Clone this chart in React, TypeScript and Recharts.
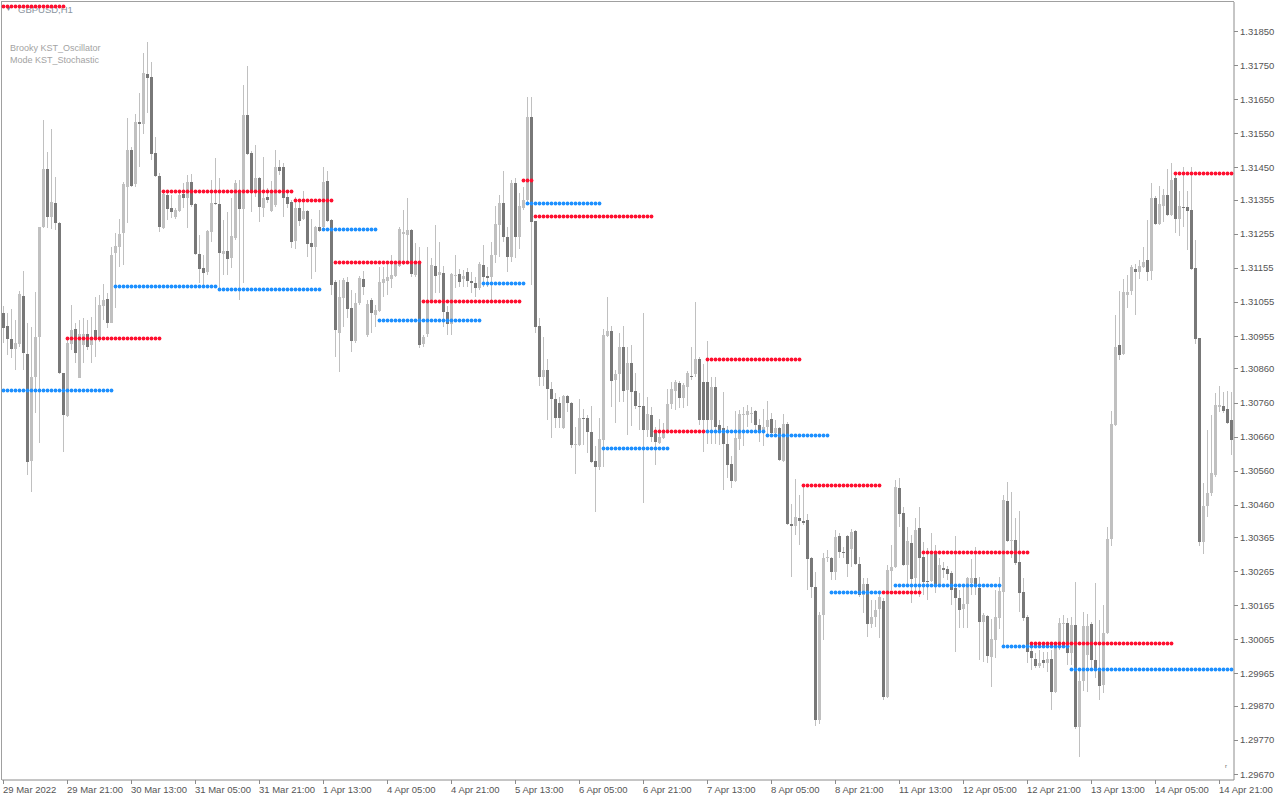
import React from "react";
import { ComposedChart, Bar, Line, XAxis, YAxis } from "recharts";

// GBPUSD H1, 308 bars (29 Mar 2022 05:00 .. 15 Apr 00:00)
const OPEN = [
  1.31023,1.30985,1.30946,1.30917,1.30932,1.31073,1.30902,1.30588,1.30835,1.30952,
  1.31275,1.31445,1.31304,1.31345,1.31287,1.30847,1.30720,1.30932,1.30976,1.30832,
  1.30929,1.30961,1.30929,1.30973,1.30952,1.31043,1.31064,1.30993,1.31199,1.31216,
  1.31257,1.31392,1.31501,1.31401,1.31583,1.31577,1.31724,1.31715,1.31492,1.31425,
  1.31272,1.31369,1.31331,1.31304,1.31322,1.31372,1.31360,1.31407,1.31342,1.31196,
  1.31155,1.31143,1.31260,1.31345,1.31342,1.31196,1.31205,1.31184,1.31243,1.31384,
  1.31328,1.31604,1.31492,1.31378,1.31419,1.31331,1.31363,1.31322,1.31340,1.31451,
  1.31451,1.31363,1.31348,1.31234,1.31331,1.31298,1.31322,1.31228,1.31216,1.31275,
  1.31275,1.31410,1.31296,1.31114,1.30964,1.31067,1.31114,1.31037,1.30941,1.31052,
  1.31122,1.30958,1.31061,1.31017,1.31029,1.31111,1.31117,1.31122,1.31131,1.31161,
  1.31254,1.31251,1.31266,1.31134,1.31169,1.30932,1.30961,1.31055,1.31161,1.31134,
  1.31140,1.31026,1.30990,1.31131,1.31137,1.31122,1.31143,1.31117,1.31111,1.31096,
  1.31163,1.31131,1.31128,1.31193,1.31281,1.31345,1.31246,1.31187,1.31404,1.31246,
  1.31331,1.31354,1.31598,1.31293,1.30985,1.30835,1.30855,1.30800,1.30770,1.30759,
  1.30685,1.30779,1.30759,1.30635,1.30635,1.30715,1.30715,1.30673,1.30588,1.30571,
  1.30650,1.30955,1.30970,1.30826,1.30844,1.30923,1.30797,1.30876,1.30794,1.30750,
  1.30750,1.30679,1.30723,1.30671,1.30641,1.30656,1.30679,1.30756,1.30794,1.30817,
  1.30773,1.30806,1.30838,1.30844,1.30888,1.30820,1.30820,1.30709,1.30806,1.30694,
  1.30685,1.30638,1.30580,1.30530,1.30653,1.30723,1.30723,1.30726,1.30735,1.30694,
  1.30671,1.30688,1.30712,1.30671,1.30685,1.30588,1.30697,1.30404,1.30398,1.30421,
  1.30412,1.30415,1.30304,1.30219,1.29829,1.30137,1.30304,1.30304,1.30263,1.30368,
  1.30321,1.30368,1.30330,1.30383,1.30286,1.30195,1.30228,1.30110,1.30131,1.30154,
  1.30178,1.29896,1.30266,1.30277,1.30509,1.30436,1.30283,1.30348,1.30245,1.30392,
  1.30307,1.30236,1.30236,1.30321,1.30225,1.30274,1.30272,1.30260,1.30216,1.30186,
  1.30154,1.30169,1.30230,1.30245,1.30216,1.30116,1.30134,1.30013,1.30063,1.30128,
  1.30204,1.30471,1.30354,1.30357,1.30292,1.30204,1.30131,1.30031,1.30007,1.29987,
  1.30005,1.29996,1.30007,1.29911,1.30040,1.30110,1.30113,1.30025,1.30107,1.29808,
  1.29943,1.30019,1.30110,1.30005,1.29978,1.29931,1.30084,1.30360,1.30694,1.30929,
  1.30902,1.31075,1.31087,1.31152,1.31143,1.31158,1.31178,1.31146,1.31360,1.31284,
  1.31337,1.31369,1.31310,1.31419,1.31298,1.31334,1.31334,1.31325,1.31155,1.30949,
  1.30351,1.30456,1.30494,1.30547,1.30747,1.30750,1.30741,1.30709,
];

const HIGH = [
  1.31043,1.31023,1.31034,1.31002,1.31087,1.31146,1.30993,1.30982,1.31084,1.31275,
  1.31589,1.31495,1.31563,1.31422,1.31290,1.30847,1.30946,1.31046,1.30993,1.31002,
  1.31008,1.31002,1.31011,1.31070,1.31075,1.31108,1.31081,1.31216,1.31257,1.31298,
  1.31407,1.31595,1.31510,1.31607,1.31668,1.31785,1.31818,1.31759,1.31539,1.31433,
  1.31378,1.31378,1.31369,1.31331,1.31378,1.31404,1.31428,1.31431,1.31345,1.31251,
  1.31193,1.31266,1.31413,1.31477,1.31419,1.31296,1.31319,1.31360,1.31413,1.31413,
  1.31692,1.31747,1.31498,1.31516,1.31422,1.31480,1.31389,1.31410,1.31501,1.31472,
  1.31463,1.31378,1.31354,1.31363,1.31354,1.31381,1.31325,1.31298,1.31278,1.31325,
  1.31451,1.31439,1.31298,1.31119,1.31119,1.31125,1.31128,1.31090,1.31081,1.31131,
  1.31146,1.31061,1.31067,1.31046,1.31158,1.31158,1.31169,1.31193,1.31172,1.31275,
  1.31325,1.31360,1.31269,1.31228,1.31216,1.30958,1.31216,1.31184,1.31281,1.31231,
  1.31161,1.31043,1.31140,1.31193,1.31152,1.31149,1.31155,1.31143,1.31128,1.31172,
  1.31222,1.31158,1.31231,1.31337,1.31369,1.31439,1.31275,1.31413,1.31419,1.31375,
  1.31392,1.31656,1.31656,1.31293,1.31008,1.30952,1.30888,1.30820,1.30788,1.30776,
  1.30782,1.30782,1.30762,1.30688,1.30770,1.30741,1.30723,1.30750,1.30632,1.30715,
  1.30976,1.31070,1.30985,1.30855,1.30964,1.30985,1.30923,1.30929,1.30847,1.30788,
  1.31023,1.30776,1.30747,1.30688,1.30712,1.30700,1.30800,1.30820,1.30826,1.30823,
  1.30817,1.30853,1.30923,1.31055,1.30894,1.30873,1.30941,1.30835,1.30835,1.30709,
  1.30791,1.30691,1.30603,1.30735,1.30738,1.30747,1.30753,1.30747,1.30738,1.30712,
  1.30741,1.30764,1.30729,1.30709,1.30688,1.30726,1.30703,1.30462,1.30536,1.30489,
  1.30512,1.30433,1.30307,1.30263,1.30145,1.30319,1.30327,1.30307,1.30386,1.30377,
  1.30336,1.30371,1.30389,1.30386,1.30307,1.30245,1.30245,1.30181,1.30181,1.30201,
  1.30186,1.30283,1.30342,1.30533,1.30539,1.30453,1.30395,1.30371,1.30421,1.30453,
  1.30351,1.30333,1.30377,1.30342,1.30304,1.30292,1.30280,1.30266,1.30368,1.30210,
  1.30219,1.30248,1.30301,1.30336,1.30248,1.30142,1.30137,1.30125,1.30210,1.30248,
  1.30489,1.30527,1.30497,1.30421,1.30442,1.30245,1.30137,1.30040,1.30025,1.30034,
  1.30028,1.30028,1.30034,1.30043,1.30128,1.30137,1.30128,1.30131,1.30233,1.29975,
  1.30145,1.30140,1.30116,1.30230,1.30122,1.30166,1.30395,1.30735,1.31017,1.31087,
  1.31122,1.31134,1.31163,1.31166,1.31178,1.31216,1.31296,1.31404,1.31366,1.31395,
  1.31386,1.31445,1.31463,1.31428,1.31381,1.31451,1.31381,1.31451,1.31237,1.30949,
  1.30524,1.30679,1.30723,1.30788,1.30808,1.30791,1.30794,1.30791,
];

const LOW = [
  1.30935,1.30899,1.30891,1.30855,1.30923,1.30855,1.30547,1.30497,1.30729,1.30641,
  1.31272,1.31272,1.31269,1.31266,1.30844,1.30615,1.30718,1.30914,1.30876,1.30832,
  1.30876,1.30914,1.30876,1.30894,1.30938,1.31002,1.30979,1.30993,1.31037,1.31158,
  1.31163,1.31287,1.31392,1.31392,1.31451,1.31548,1.31609,1.31472,1.31422,1.31260,
  1.31269,1.31296,1.31301,1.31298,1.31319,1.31331,1.31272,1.31334,1.31193,1.31111,
  1.31096,1.31134,1.31231,1.31340,1.31096,1.31134,1.31134,1.31155,1.31237,1.31061,
  1.31111,1.31486,1.31319,1.31363,1.31290,1.31304,1.31345,1.31319,1.31334,1.31428,
  1.31304,1.31331,1.31213,1.31210,1.31278,1.31296,1.31187,1.31122,1.31143,1.31260,
  1.31272,1.31290,1.31075,1.30894,1.30850,1.30982,1.31008,1.30908,1.30935,1.31046,
  1.31075,1.30952,1.30964,1.30982,1.31026,1.31070,1.31075,1.31096,1.31128,1.31158,
  1.31163,1.31169,1.31128,1.31128,1.30920,1.30923,1.30952,1.31052,1.31081,1.31081,
  1.30982,1.30958,1.30958,1.31096,1.31099,1.31099,1.31099,1.31081,1.31070,1.31090,
  1.31099,1.31099,1.31061,1.31169,1.31187,1.31231,1.31143,1.31172,1.31184,1.31210,
  1.31325,1.31348,1.31105,1.30964,1.30808,1.30808,1.30709,1.30656,1.30685,1.30685,
  1.30682,1.30732,1.30627,1.30550,1.30632,1.30635,1.30612,1.30583,1.30439,1.30562,
  1.30571,1.30952,1.30747,1.30700,1.30762,1.30762,1.30665,1.30691,1.30741,1.30679,
  1.30465,1.30659,1.30644,1.30577,1.30638,1.30653,1.30676,1.30741,1.30738,1.30744,
  1.30744,1.30750,1.30826,1.30835,1.30694,1.30615,1.30638,1.30638,1.30638,1.30635,
  1.30503,1.30539,1.30509,1.30527,1.30621,1.30632,1.30688,1.30700,1.30676,1.30644,
  1.30632,1.30665,1.30668,1.30659,1.30588,1.30585,1.30401,1.30248,1.30371,1.30342,
  1.30401,1.30210,1.30186,1.29811,1.29817,1.30063,1.30292,1.30239,1.30239,1.30304,
  1.30304,1.30248,1.30277,1.30283,1.30189,1.30142,1.30072,1.30098,1.30101,1.30069,
  1.29887,1.29893,1.30210,1.30274,1.30395,1.30280,1.30219,1.30172,1.30201,1.30189,
  1.30195,1.30181,1.30233,1.30201,1.30219,1.30245,1.30239,1.30166,1.30028,1.30098,
  1.30098,1.30098,1.30195,1.30195,1.30005,1.29999,1.29996,1.29925,1.30010,1.30095,
  1.30049,1.30351,1.30304,1.30283,1.30145,1.30119,1.29996,1.29975,1.29981,1.29981,
  1.29981,1.29969,1.29858,1.29908,1.30034,1.30043,1.29990,1.29990,1.29802,1.29720,
  1.29914,1.29911,1.29981,1.29952,1.29887,1.29908,1.30081,1.30339,1.30691,1.30885,
  1.30899,1.31037,1.31075,1.31017,1.31122,1.31155,1.31117,1.31119,1.31281,1.31281,
  1.31290,1.31307,1.31307,1.31257,1.31249,1.31275,1.31207,1.31149,1.30932,1.30339,
  1.30316,1.30424,1.30486,1.30541,1.30732,1.30729,1.30697,1.30606,
];

const CLOSE = [
  1.30979,1.30946,1.30917,1.30935,1.31078,1.30905,1.30585,1.30835,1.30952,1.31275,
  1.31445,1.31304,1.31348,1.31287,1.30847,1.30723,1.30935,1.30973,1.30905,1.30961,
  1.30961,1.30923,1.30949,1.30949,1.31046,1.31061,1.30993,1.31193,1.31219,1.31254,
  1.31401,1.31501,1.31395,1.31583,1.31577,1.31727,1.31712,1.31489,1.31425,1.31275,
  1.31372,1.31328,1.31319,1.31325,1.31369,1.31360,1.31407,1.31340,1.31196,1.31152,
  1.31140,1.31263,1.31345,1.31342,1.31199,1.31205,1.31181,1.31249,1.31404,1.31328,
  1.31604,1.31489,1.31378,1.31419,1.31334,1.31360,1.31354,1.31378,1.31451,1.31439,
  1.31360,1.31342,1.31231,1.31331,1.31293,1.31322,1.31225,1.31216,1.31275,1.31263,
  1.31407,1.31293,1.31105,1.30973,1.31070,1.31119,1.31034,1.30941,1.31052,1.31125,
  1.31099,1.31049,1.31023,1.31031,1.31114,1.31122,1.31128,1.31134,1.31169,1.31269,
  1.31260,1.31266,1.31137,1.31169,1.30929,1.30952,1.31058,1.31163,1.31131,1.31143,
  1.31026,1.30990,1.31137,1.31134,1.31114,1.31131,1.31117,1.31111,1.31096,1.31166,
  1.31128,1.31125,1.31193,1.31284,1.31345,1.31246,1.31187,1.31404,1.31246,1.31337,
  1.31354,1.31598,1.31290,1.30982,1.30835,1.30855,1.30800,1.30770,1.30715,1.30715,
  1.30779,1.30759,1.30635,1.30638,1.30715,1.30712,1.30673,1.30585,1.30571,1.30653,
  1.30958,1.30970,1.30823,1.30844,1.30923,1.30794,1.30876,1.30791,1.30750,1.30747,
  1.30679,1.30726,1.30659,1.30644,1.30659,1.30671,1.30756,1.30800,1.30820,1.30773,
  1.30811,1.30847,1.30835,1.30888,1.30709,1.30709,1.30709,1.30806,1.30688,1.30679,
  1.30638,1.30577,1.30530,1.30656,1.30726,1.30726,1.30735,1.30729,1.30694,1.30671,
  1.30688,1.30709,1.30671,1.30685,1.30591,1.30697,1.30404,1.30398,1.30424,1.30412,
  1.30407,1.30301,1.30219,1.29829,1.30137,1.30304,1.30307,1.30263,1.30365,1.30321,
  1.30319,1.30286,1.30380,1.30286,1.30195,1.30228,1.30110,1.30131,1.30151,1.30189,
  1.29896,1.30269,1.30277,1.30512,1.30433,1.30283,1.30354,1.30242,1.30386,1.30304,
  1.30233,1.30233,1.30321,1.30225,1.30283,1.30269,1.30257,1.30210,1.30186,1.30151,
  1.30169,1.30245,1.30245,1.30228,1.30116,1.30137,1.30016,1.30066,1.30131,1.30207,
  1.30474,1.30354,1.30357,1.30289,1.30201,1.30128,1.30028,1.30010,1.29987,1.29996,
  1.29996,1.30007,1.29911,1.30040,1.30113,1.30113,1.30025,1.30107,1.29808,1.29943,
  1.30104,1.30104,1.30005,1.29978,1.29928,1.30084,1.30360,1.30697,1.30923,1.30899,
  1.31084,1.31084,1.31158,1.31143,1.31161,1.31172,1.31143,1.31360,1.31284,1.31342,
  1.31369,1.31310,1.31413,1.31298,1.31337,1.31331,1.31322,1.31152,1.30946,1.30351,
  1.30456,1.30494,1.30553,1.30753,1.30753,1.30735,1.30700,1.30650,
];

// Brooky KST levels: [first bar, last bar, price]
const RED_SEGMENTS: [number, number, number][] = [
  [0, 15, 1.31923], [16, 39, 1.30949], [40, 72, 1.31378], [73, 82, 1.31354],
  [83, 104, 1.31172], [105, 129, 1.31055], [130, 132, 1.3141], [133, 162, 1.31307],
  [163, 175, 1.30676], [176, 199, 1.30885], [200, 219, 1.30518], [220, 229, 1.30204],
  [230, 256, 1.30321], [257, 292, 1.30054], [293, 307, 1.31433],
];
const BLUE_SEGMENTS: [number, number, number][] = [
  [0, 27, 1.30794], [28, 53, 1.31099], [54, 79, 1.31093], [80, 93, 1.31269],
  [94, 119, 1.31002], [120, 130, 1.31108], [131, 149, 1.31345], [150, 166, 1.30624],
  [176, 190, 1.30676], [191, 206, 1.30662], [207, 219, 1.30204], [223, 249, 1.30222],
  [250, 266, 1.30043], [267, 307, 1.29978],
];

const X_LABELS = [
  "29 Mar 2022", "29 Mar 21:00", "30 Mar 13:00", "31 Mar 05:00", "31 Mar 21:00",
  "1 Apr 13:00", "4 Apr 05:00", "4 Apr 21:00", "5 Apr 13:00", "6 Apr 05:00",
  "6 Apr 21:00", "7 Apr 13:00", "8 Apr 05:00", "8 Apr 21:00", "11 Apr 13:00",
  "12 Apr 05:00", "12 Apr 21:00", "13 Apr 13:00", "14 Apr 05:00", "14 Apr 21:00",
];
const BARS_PER_LABEL = 16;

const Y_TICKS = [
  1.3185, 1.3175, 1.3165, 1.3155, 1.3145, 1.31355, 1.31255, 1.31155, 1.31055,
  1.30955, 1.3086, 1.3076, 1.3066, 1.3056, 1.3046, 1.30365, 1.30265, 1.30165,
  1.30065, 1.29965, 1.2987, 1.2977, 1.2967,
];
const Y_DOMAIN: [number, number] = [1.296525, 1.319351];

const FONT = "'Liberation Sans', Arial, sans-serif";
const BULL = "#c0c0c0";
const BEAR = "#787878";
const WICK = "#c0c0c0";
const RED = "#ff1030";
const BLUE = "#1e90ff";
const AXIS = "#8c8c8c";
const LABEL = "#555555";
const PLOT_RIGHT = 1234;
const PLOT_BOTTOM = 780;

function levelAt(segs: [number, number, number][], i: number): number | null {
  for (const [a, b, v] of segs) if (i >= a && i <= b) return v;
  return null;
}

const data = OPEN.map((o, i) => {
  const h = HIGH[i], l = LOW[i], c = CLOSE[i];
  return {
    i,
    o, h, l, c,
    range: [Math.min(l, o, c), Math.max(h, o, c)],
    red: levelAt(RED_SEGMENTS, i),
    blue: levelAt(BLUE_SEGMENTS, i),
  };
});

function Candle(props: any) {
  const { x, y, width, height, payload } = props;
  if (x == null || y == null || !payload) return <g />;
  const { o, c } = payload;
  const [lo, hi] = payload.range;
  const k = hi > lo ? height / (hi - lo) : 0;
  const yOf = (v: number) => y + (hi - v) * k;
  const center = x + width / 2;
  const bx = Math.round(center) - 2;
  const top = Math.round(yOf(Math.max(o, c)));
  const bot = Math.round(yOf(Math.min(o, c)));
  const wy = Math.round(y);
  const wb = Math.round(y + height);
  const bull = c >= o;
  return (
    <g shapeRendering="crispEdges">
      <rect x={bx + 1} y={wy} width={1} height={Math.max(1, wb - wy)} fill={WICK} />
      <rect x={bx} y={top} width={3} height={Math.max(1, bot - top)} fill={bull ? BULL : BEAR} />
    </g>
  );
}

function makeDot(color: string) {
  return (p: any) => {
    const key = `d-${color}-${p.index}`;
    if (p.value == null || p.cy == null || isNaN(p.cy)) return <g key={key} />;
    return (
      <circle key={key} cx={Math.round(p.cx) - 0.5} cy={Math.floor(p.cy) + 0.5} r={1.9} fill={color} stroke="none" />
    );
  };
}

function XTick(props: any) {
  const { x, payload } = props;
  const idx = Number(payload.value);
  if (idx % BARS_PER_LABEL !== 0) return <g />;
  const label = X_LABELS[idx / BARS_PER_LABEL];
  const tx = Math.round(x) - 1;
  return (
    <g>
      <line x1={tx + 0.5} x2={tx + 0.5} y1={PLOT_BOTTOM} y2={PLOT_BOTTOM + 4} stroke={AXIS} />
      <text x={tx} y={793} fontSize={9.5} fontFamily={FONT} fill={LABEL} textAnchor="start">
        {label}
      </text>
    </g>
  );
}

function YTick(props: any) {
  const { y, payload } = props;
  const yy = Math.round(y) + 0.5;
  return (
    <g>
      <line x1={PLOT_RIGHT} x2={PLOT_RIGHT + 4} y1={yy} y2={yy} stroke={AXIS} />
      <text x={PLOT_RIGHT + 6} y={y + 3.5} fontSize={9.5} fontFamily={FONT} fill={LABEL} textAnchor="start">
        {Number(payload.value).toFixed(5)}
      </text>
    </g>
  );
}

export default function App() {
  return (
    <div
      style={{
        position: "absolute",
        left: 0,
        top: 0,
        width: 1280,
        height: 800,
        background: "#ffffff",
        overflow: "hidden",
        fontFamily: FONT,
      }}
    >
      {/* frame: top and left border */}
      <div style={{ position: "absolute", left: 1, top: 1, width: PLOT_RIGHT - 1, height: 1, background: "#a0a0a0" }} />
      <div style={{ position: "absolute", left: 1, top: 1, width: 1, height: PLOT_BOTTOM - 1, background: "#a0a0a0" }} />

      <div style={{ position: "absolute", left: 5, top: 4, fontSize: 7, color: "#7d8893", lineHeight: "10px" }}>▼</div>
      <div style={{ position: "absolute", left: 18, top: 4, fontSize: 9.5, color: "#8a95a0", lineHeight: "12px" }}>
        GBPUSD,H1
      </div>
      <div style={{ position: "absolute", left: 10, top: 42, fontSize: 9, color: "#a3a3a3", lineHeight: "12px" }}>
        Brooky KST_Oscillator
      </div>
      <div style={{ position: "absolute", left: 10, top: 54, fontSize: 9, color: "#a3a3a3", lineHeight: "12px" }}>
        Mode KST_Stochastic
      </div>

      <div style={{ position: "absolute", left: 0, top: 0 }}>
        <ComposedChart
          width={1280}
          height={800}
          data={data}
          margin={{ top: 2, right: 0, bottom: 0, left: 2 }}
          barCategoryGap={0}
          barGap={0}
        >
          <XAxis
            dataKey="i"
            type="category"
            interval={0}
            height={20}
            axisLine={{ stroke: AXIS }}
            tickLine={false}
            tick={<XTick />}
          />
          <YAxis
            orientation="right"
            type="number"
            width={46}
            domain={Y_DOMAIN}
            ticks={Y_TICKS}
            interval={0}
            allowDataOverflow
            axisLine={{ stroke: AXIS }}
            tickLine={false}
            tick={<YTick />}
          />
          <Bar dataKey="range" shape={<Candle />} isAnimationActive={false} />
          <Line
            dataKey="blue"
            stroke="none"
            connectNulls={false}
            dot={makeDot(BLUE)}
            activeDot={false}
            isAnimationActive={false}
          />
          <Line
            dataKey="red"
            stroke="none"
            connectNulls={false}
            dot={makeDot(RED)}
            activeDot={false}
            isAnimationActive={false}
          />
        </ComposedChart>
      </div>
      <div style={{ position: "absolute", left: 1225, top: 763, fontSize: 6, color: "#666" }}>r</div>
    </div>
  );
}
